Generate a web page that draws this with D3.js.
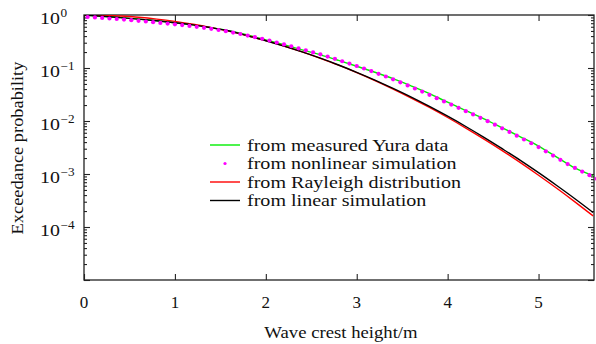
<!DOCTYPE html>
<html>
<head>
<meta charset="utf-8">
<script src="https://cdn.jsdelivr.net/npm/d3@7"></script>
<style>
  html, body { margin: 0; padding: 0; background: #fff; }
  svg { display: block; }
  text { font-family: "Liberation Serif", "Times New Roman", "DejaVu Serif", serif; fill: #111; }
</style>
</head>
<body>
<svg id="chart" width="596" height="344"></svg>
<script>
// Wave crest height (m) sampled for the continuous curves
const crestHeights = [0, 0.2, 0.4, 0.6, 0.8, 1.0, 1.2, 1.4, 1.6, 1.8, 2.0, 2.2, 2.4, 2.6, 2.8,
  3.0, 3.2, 3.4, 3.6, 3.8, 4.0, 4.2, 4.4, 4.6, 4.8, 5.0, 5.2, 5.4, 5.6];

// Exceedance probability, measured Yura data
const measuredYura = [1, 0.949, 0.893, 0.837, 0.778, 0.716, 0.651, 0.578, 0.503, 0.420, 0.340,
  0.274, 0.220, 0.177, 0.139, 0.108, 0.0830, 0.0628, 0.0457, 0.0327, 0.0226, 0.0157, 0.0110,
  0.00745, 0.00504, 0.00336, 0.00209, 0.00130, 0.000925];

// Exceedance probability, Rayleigh distribution
const rayleigh = [1, 0.989, 0.956, 0.905, 0.837, 0.757, 0.670, 0.579, 0.490, 0.406, 0.328,
  0.260, 0.201, 0.152, 0.113, 0.0817, 0.0578, 0.0400, 0.0271, 0.0180, 0.01164, 0.00736,
  0.00456, 0.00277, 0.00164, 0.000949, 0.000538, 0.000298, 0.000162];

// Exceedance probability, linear simulation
const linearSim = [1, 0.949, 0.893, 0.837, 0.778, 0.716, 0.651, 0.573, 0.499, 0.404, 0.327,
  0.259, 0.201, 0.153, 0.114, 0.0830, 0.0592, 0.0412, 0.0282, 0.0188, 0.0123, 0.00787,
  0.00491, 0.00300, 0.00181, 0.00106, 0.000607, 0.000342, 0.000188];

// Nonlinear simulation: crest heights (m) of the plotted points
const nonlinearHeights = [0.04, 0.12, 0.20, 0.28, 0.36, 0.44, 0.52, 0.60, 0.68, 0.76, 0.84, 0.92,
  1.00, 1.08, 1.16, 1.24, 1.32, 1.40, 1.48, 1.56, 1.64, 1.72, 1.80, 1.88, 1.96, 2.04, 2.12, 2.20,
  2.28, 2.36, 2.44, 2.52, 2.60, 2.68, 2.76, 2.84, 2.92, 3.00, 3.08, 3.16, 3.24, 3.32, 3.40, 3.48,
  3.56, 3.64, 3.72, 3.80, 3.88, 3.96, 4.04, 4.12, 4.20, 4.28, 4.36, 4.44, 4.52, 4.60, 4.68, 4.76,
  4.84, 4.92, 5.00, 5.08, 5.16, 5.24, 5.32, 5.40, 5.48, 5.56, 5.64];

// Nonlinear simulation: exceedance probability at each point
const nonlinearSim = [0.917, 0.901, 0.882, 0.859, 0.840, 0.819, 0.798, 0.777, 0.754, 0.732,
  0.709, 0.688, 0.668, 0.645, 0.623, 0.599, 0.573, 0.549, 0.521, 0.495, 0.467, 0.438, 0.409,
  0.381, 0.356, 0.329, 0.303, 0.279, 0.257, 0.235, 0.216, 0.197, 0.181, 0.164, 0.149, 0.134,
  0.121, 0.109, 0.0979, 0.0874, 0.0777, 0.0691, 0.0612, 0.0537, 0.0469, 0.0410, 0.0359,
  0.0312, 0.0270, 0.0234, 0.0204, 0.0177, 0.0153, 0.0133, 0.0115, 0.00991, 0.00851, 0.00728,
  0.00623, 0.00528, 0.00448, 0.00380, 0.00322, 0.00268, 0.00223, 0.00185, 0.00154, 0.00130,
  0.00111, 0.000949, 0.000812];

const xTicks = [0, 1, 2, 3, 4, 5];
const yExponents = [0, -1, -2, -3, -4];

const legendLabels = ["from measured Yura data", "from nonlinear simulation",
  "from Rayleigh distribution", "from linear simulation"];

const colors = { yura: "#00ee00", nonlinear: "#ff00ff", rayleigh: "#ff0000", linear: "#000000" };

const FONT = "Liberation Serif, Times New Roman, DejaVu Serif, serif";
const svg = d3.select("#chart").attr("font-family", FONT);
const m = { left: 84, right: 594, top: 15, bottom: 280 };

const x = d3.scaleLinear().domain([0, 5.61]).range([m.left, m.right]);
const y = d3.scaleLog().domain([1e-5, 1]).range([m.bottom, m.top]);

// widen a text run horizontally by a factor, keeping its anchor
function widen(sel, f) {
  sel.each(function () {
    const w = this.getComputedTextLength();
    d3.select(this).attr("textLength", w * f).attr("lengthAdjust", "spacingAndGlyphs");
  });
}

svg.append("defs").append("clipPath").attr("id", "plotClip")
  .append("rect").attr("x", m.left).attr("y", m.top)
  .attr("width", m.right - m.left).attr("height", m.bottom - m.top);

// minor ticks (2..9 of each decade)
const minorVals = [];
for (let e = -5; e < 0; e++) for (let k = 2; k <= 9; k++) minorVals.push(k * Math.pow(10, e));
const majorVals = [1e-5, 1e-4, 1e-3, 1e-2, 1e-1, 1];

function styleAxis(g) {
  g.select(".domain").remove();
  g.selectAll("line").attr("stroke", "#222").attr("stroke-width", 1.1);
  g.selectAll("text").remove();
}

svg.append("g").attr("transform", `translate(${m.left},0)`)
  .call(d3.axisLeft(y).tickValues(minorVals).tickSize(-3)).call(styleAxis);
svg.append("g").attr("transform", `translate(${m.left},0)`)
  .call(d3.axisLeft(y).tickValues(majorVals).tickSize(-6)).call(styleAxis);
svg.append("g").attr("transform", `translate(${m.right},0)`)
  .call(d3.axisRight(y).tickValues(minorVals).tickSize(-3)).call(styleAxis);
svg.append("g").attr("transform", `translate(${m.right},0)`)
  .call(d3.axisRight(y).tickValues(majorVals).tickSize(-6)).call(styleAxis);
svg.append("g").attr("transform", `translate(0,${m.bottom})`)
  .call(d3.axisBottom(x).tickValues(xTicks).tickSize(-6)).call(styleAxis);
svg.append("g").attr("transform", `translate(0,${m.top})`)
  .call(d3.axisTop(x).tickValues(xTicks).tickSize(-6)).call(styleAxis);

// frame
svg.append("rect").attr("x", m.left).attr("y", m.top)
  .attr("width", m.right - m.left).attr("height", m.bottom - m.top)
  .attr("fill", "none").attr("stroke", "#222").attr("stroke-width", 1.3);

// x tick labels
svg.selectAll(".xlab").data(xTicks).join("text")
  .attr("class", "xlab")
  .attr("x", d => x(d)).attr("y", 308)
  .attr("text-anchor", "middle").attr("font-size", 17)
  .text(d => d);

// y tick labels: base "10" ending at a fixed column, exponent raised after it
svg.selectAll(".ybase").data(yExponents).join("text")
  .attr("class", "ybase")
  .attr("x", 60).attr("y", d => y(Math.pow(10, d)) + 9)
  .attr("text-anchor", "end").attr("font-size", 17)
  .text("10").call(widen, 1.17);
svg.selectAll(".yexp").data(yExponents).join("text")
  .attr("class", "yexp")
  .attr("x", 60.5).attr("y", d => y(Math.pow(10, d)) + 2)
  .attr("font-size", 11.5)
  .text(d => d === 0 ? "0" : "\u2212" + (-d)).call(widen, 1.15);

// axis titles
svg.append("text").attr("x", 341).attr("y", 338)
  .attr("text-anchor", "middle").attr("font-size", 17).text("Wave crest height/m")
  .call(widen, 1.1);
svg.append("text").attr("transform", "translate(23,148) rotate(-90)")
  .attr("text-anchor", "middle").attr("font-size", 17).text("Exceedance probability")
  .call(widen, 1.08);

// curves
const plot = svg.append("g").attr("clip-path", "url(#plotClip)");
const line = d3.line().x(d => x(d[0])).y(d => y(d[1])).curve(d3.curveMonotoneX);
const series = [
  { vals: measuredYura, color: colors.yura },
  { vals: rayleigh, color: colors.rayleigh },
  { vals: linearSim, color: colors.linear }
];
series.forEach(s => {
  plot.append("path").datum(crestHeights.map((h, i) => [h, s.vals[i]]))
    .attr("d", line).attr("fill", "none")
    .attr("stroke", s.color).attr("stroke-width", 1.4);
});

svg.append("g").selectAll("circle")
  .data(nonlinearHeights.map((h, i) => [h, nonlinearSim[i]]))
  .join("circle")
  .attr("cx", d => x(d[0])).attr("cy", d => y(d[1])).attr("r", 2.1)
  .attr("fill", colors.nonlinear);

// legend
const legY = [145, 163.5, 182, 200.5];
const legend = svg.append("g");
legendLabels.forEach((lab, i) => {
  const yy = legY[i];
  if (i === 1) {
    legend.append("circle").attr("cx", 225).attr("cy", yy).attr("r", 1.6).attr("fill", colors.nonlinear);
  } else {
    const c = i === 0 ? colors.yura : (i === 2 ? colors.rayleigh : colors.linear);
    legend.append("line").attr("x1", 210).attr("x2", 240).attr("y1", yy).attr("y2", yy)
      .attr("stroke", c).attr("stroke-width", 1.4);
  }
  legend.append("text").attr("x", 247).attr("y", yy + 5.5)
    .attr("font-size", 17).text(lab).call(widen, 1.18);
});
</script>
</body>
</html>
